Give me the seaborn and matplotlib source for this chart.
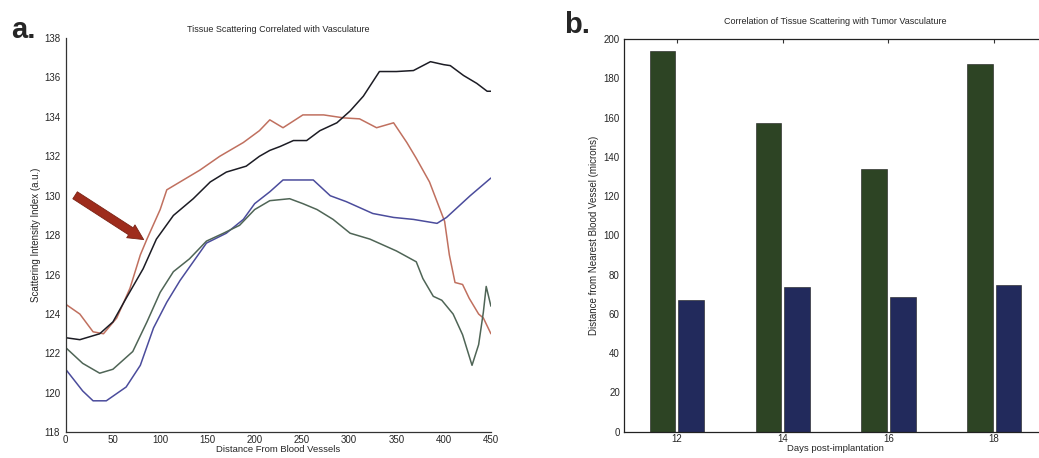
import numpy as np
import pandas as pd
import matplotlib
matplotlib.use("Agg")
import matplotlib.pyplot as plt
import seaborn as sns

# ---- panel a: scattering index vs distance from vessels ----
red_x = [0, 15, 29, 40, 54, 68, 79, 86, 100, 107, 121, 142, 163, 188, 205, 216, 230, 251, 273, 294,
         311, 329, 347, 361, 371, 385, 401, 406, 412, 420, 427, 437, 442, 450]
red_y = [124.5, 124.0, 123.1, 123.0, 123.8, 125.3, 127.0, 127.8, 129.3, 130.3, 130.7, 131.3, 132.0,
         132.7, 133.3, 133.85, 133.45, 134.1, 134.1, 133.95, 133.9, 133.45, 133.7, 132.7, 131.9, 130.7,
         128.7, 127.0, 125.6, 125.5, 124.8, 124.0, 123.8, 123.0]

black_x = [0, 15, 36, 50, 64, 82, 96, 114, 135, 153, 170, 191, 205, 216, 227, 241, 255, 269, 287, 301,
           315, 332, 350, 368, 386, 400, 407, 421, 435, 446, 450]
black_y = [122.8, 122.7, 123.0, 123.6, 124.8, 126.3, 127.8, 129.0, 129.85, 130.7, 131.2, 131.5, 132.0,
           132.3, 132.5, 132.8, 132.8, 133.3, 133.7, 134.3, 135.05, 136.3, 136.3, 136.35, 136.8, 136.65,
           136.6, 136.1, 135.7, 135.3, 135.3]

blue_x = [0, 18, 29, 43, 64, 79, 93, 107, 121, 135, 149, 170, 188, 200, 216, 230, 262, 280, 297, 311,
          325, 347, 368, 393, 403, 428, 450]
blue_y = [121.2, 120.1, 119.6, 119.6, 120.3, 121.4, 123.3, 124.6, 125.7, 126.65, 127.6, 128.1, 128.8,
          129.6, 130.2, 130.8, 130.8, 130.0, 129.7, 129.4, 129.1, 128.9, 128.8, 128.6, 128.9, 130.0, 130.9]

green_x = [0, 18, 36, 50, 71, 86, 100, 114, 131, 149, 167, 184, 200, 216, 237, 251, 266, 283, 301, 322,
           350, 371, 378, 389, 398, 410, 420, 430, 437, 442, 445, 450]
green_y = [122.3, 121.5, 121.0, 121.2, 122.1, 123.6, 125.1, 126.15, 126.8, 127.7, 128.1, 128.5, 129.3,
           129.75, 129.85, 129.6, 129.3, 128.8, 128.1, 127.8, 127.2, 126.65, 125.8, 124.9, 124.7, 124.0,
           122.95, 121.4, 122.45, 124.1, 125.4, 124.4]

# ---- panel b: distance from nearest vessel per day ----
days = [12, 14, 16, 18]
dist_high = [193.7, 157.3, 133.6, 187.5]
dist_low = [67.2, 73.9, 68.4, 74.8]

dist_x_ticks = [0, 50, 100, 150, 200, 250, 300, 350, 400, 450]
scatter_y_ticks = [118, 120, 122, 124, 126, 128, 130, 132, 134, 136, 138]
bar_y_ticks = [0, 20, 40, 60, 80, 100, 120, 140, 160, 180, 200]

sns.set_style("white")
plt.rcParams["font.family"] = ["Liberation Sans", "DejaVu Sans"]
plt.rcParams["xtick.direction"] = "in"
plt.rcParams["ytick.direction"] = "in"

fig = plt.figure(figsize=(10.39, 4.58), dpi=100)
ax1 = fig.add_axes([0.0632, 0.0560, 0.4093, 0.8610])
ax2 = fig.add_axes([0.6006, 0.0575, 0.4071, 0.8572])

lines = pd.concat([
    pd.DataFrame({"dist": red_x, "val": red_y, "series": "r"}),
    pd.DataFrame({"dist": black_x, "val": black_y, "series": "k"}),
    pd.DataFrame({"dist": blue_x, "val": blue_y, "series": "b"}),
    pd.DataFrame({"dist": green_x, "val": green_y, "series": "g"}),
], ignore_index=True)
pal = {"r": "#c0705f", "k": "#1c1c24", "b": "#4b4c9c", "g": "#4f6556"}
sns.lineplot(data=lines, x="dist", y="val", hue="series", palette=pal, estimator=None,
             sort=False, linewidth=1.1, legend=False, ax=ax1)

ax1.set_xlim(0, 450)
ax1.set_ylim(118, 138)
ax1.set_xticks(dist_x_ticks)
ax1.set_yticks(scatter_y_ticks)
ax1.tick_params(labelsize=7, length=3, width=0.8, pad=4, color="#333333")
ax1.tick_params(axis="x", pad=2)
for s in ["top", "right"]:
    ax1.spines[s].set_visible(False)
for s in ["left", "bottom"]:
    ax1.spines[s].set_color("#333333")
    ax1.spines[s].set_linewidth(0.9)
ax1.set_xlabel("Distance From Blood Vessels", fontsize=6.8, labelpad=0)
ax1.set_ylabel("Scattering Intensity Index (a.u.)", fontsize=7, labelpad=2)
ax1.set_title("Tissue Scattering Correlated with Vasculature", fontsize=6.5, pad=4)

ax1.annotate("", xy=(85, 127.7), xytext=(7.5, 130.1),
             arrowprops=dict(arrowstyle="simple,head_width=1.1,head_length=1.1,tail_width=0.6",
                             facecolor="#9e2c1c", edgecolor="#7a2214", linewidth=0.6))

# ---- bars ----
bars = pd.concat([
    pd.DataFrame({"day": days, "dist": dist_high, "grp": "high"}),
    pd.DataFrame({"day": days, "dist": dist_low, "grp": "low"}),
], ignore_index=True)
sns.barplot(data=bars, x="day", y="dist", hue="grp", native_scale=True, width=0.54, gap=0.1,
            palette={"high": "#2d4424", "low": "#222a5c"}, edgecolor="#1a1a1a", linewidth=0.4,
            saturation=1, legend=False, ax=ax2)

ax2.set_xlim(11, 19)
ax2.set_ylim(0, 200)
ax2.set_xticks(days)
ax2.set_xticklabels([str(d) for d in days])
ax2.set_yticks(bar_y_ticks)
ax2.tick_params(labelsize=7, length=3, width=0.8, pad=3, top=True, right=True, color="#333333")
ax2.tick_params(axis="x", pad=2)
for s in ax2.spines.values():
    s.set_color("#222222")
    s.set_linewidth(0.9)
ax2.set_xlabel("Days post-implantation", fontsize=6.8, labelpad=0)
ax2.set_ylabel("Distance from Nearest Blood Vessel (microns)", fontsize=7, labelpad=3)
ax2.set_title("Correlation of Tissue Scattering with Tumor Vasculature", fontsize=6.5, pad=11)

fig.text(0.011, 0.917, "a.", fontsize=21, fontweight="bold", ha="left", va="baseline")
fig.text(0.543, 0.928, "b.", fontsize=21, fontweight="bold", ha="left", va="baseline")

fig.savefig("out.png", dpi=100, facecolor="white")
